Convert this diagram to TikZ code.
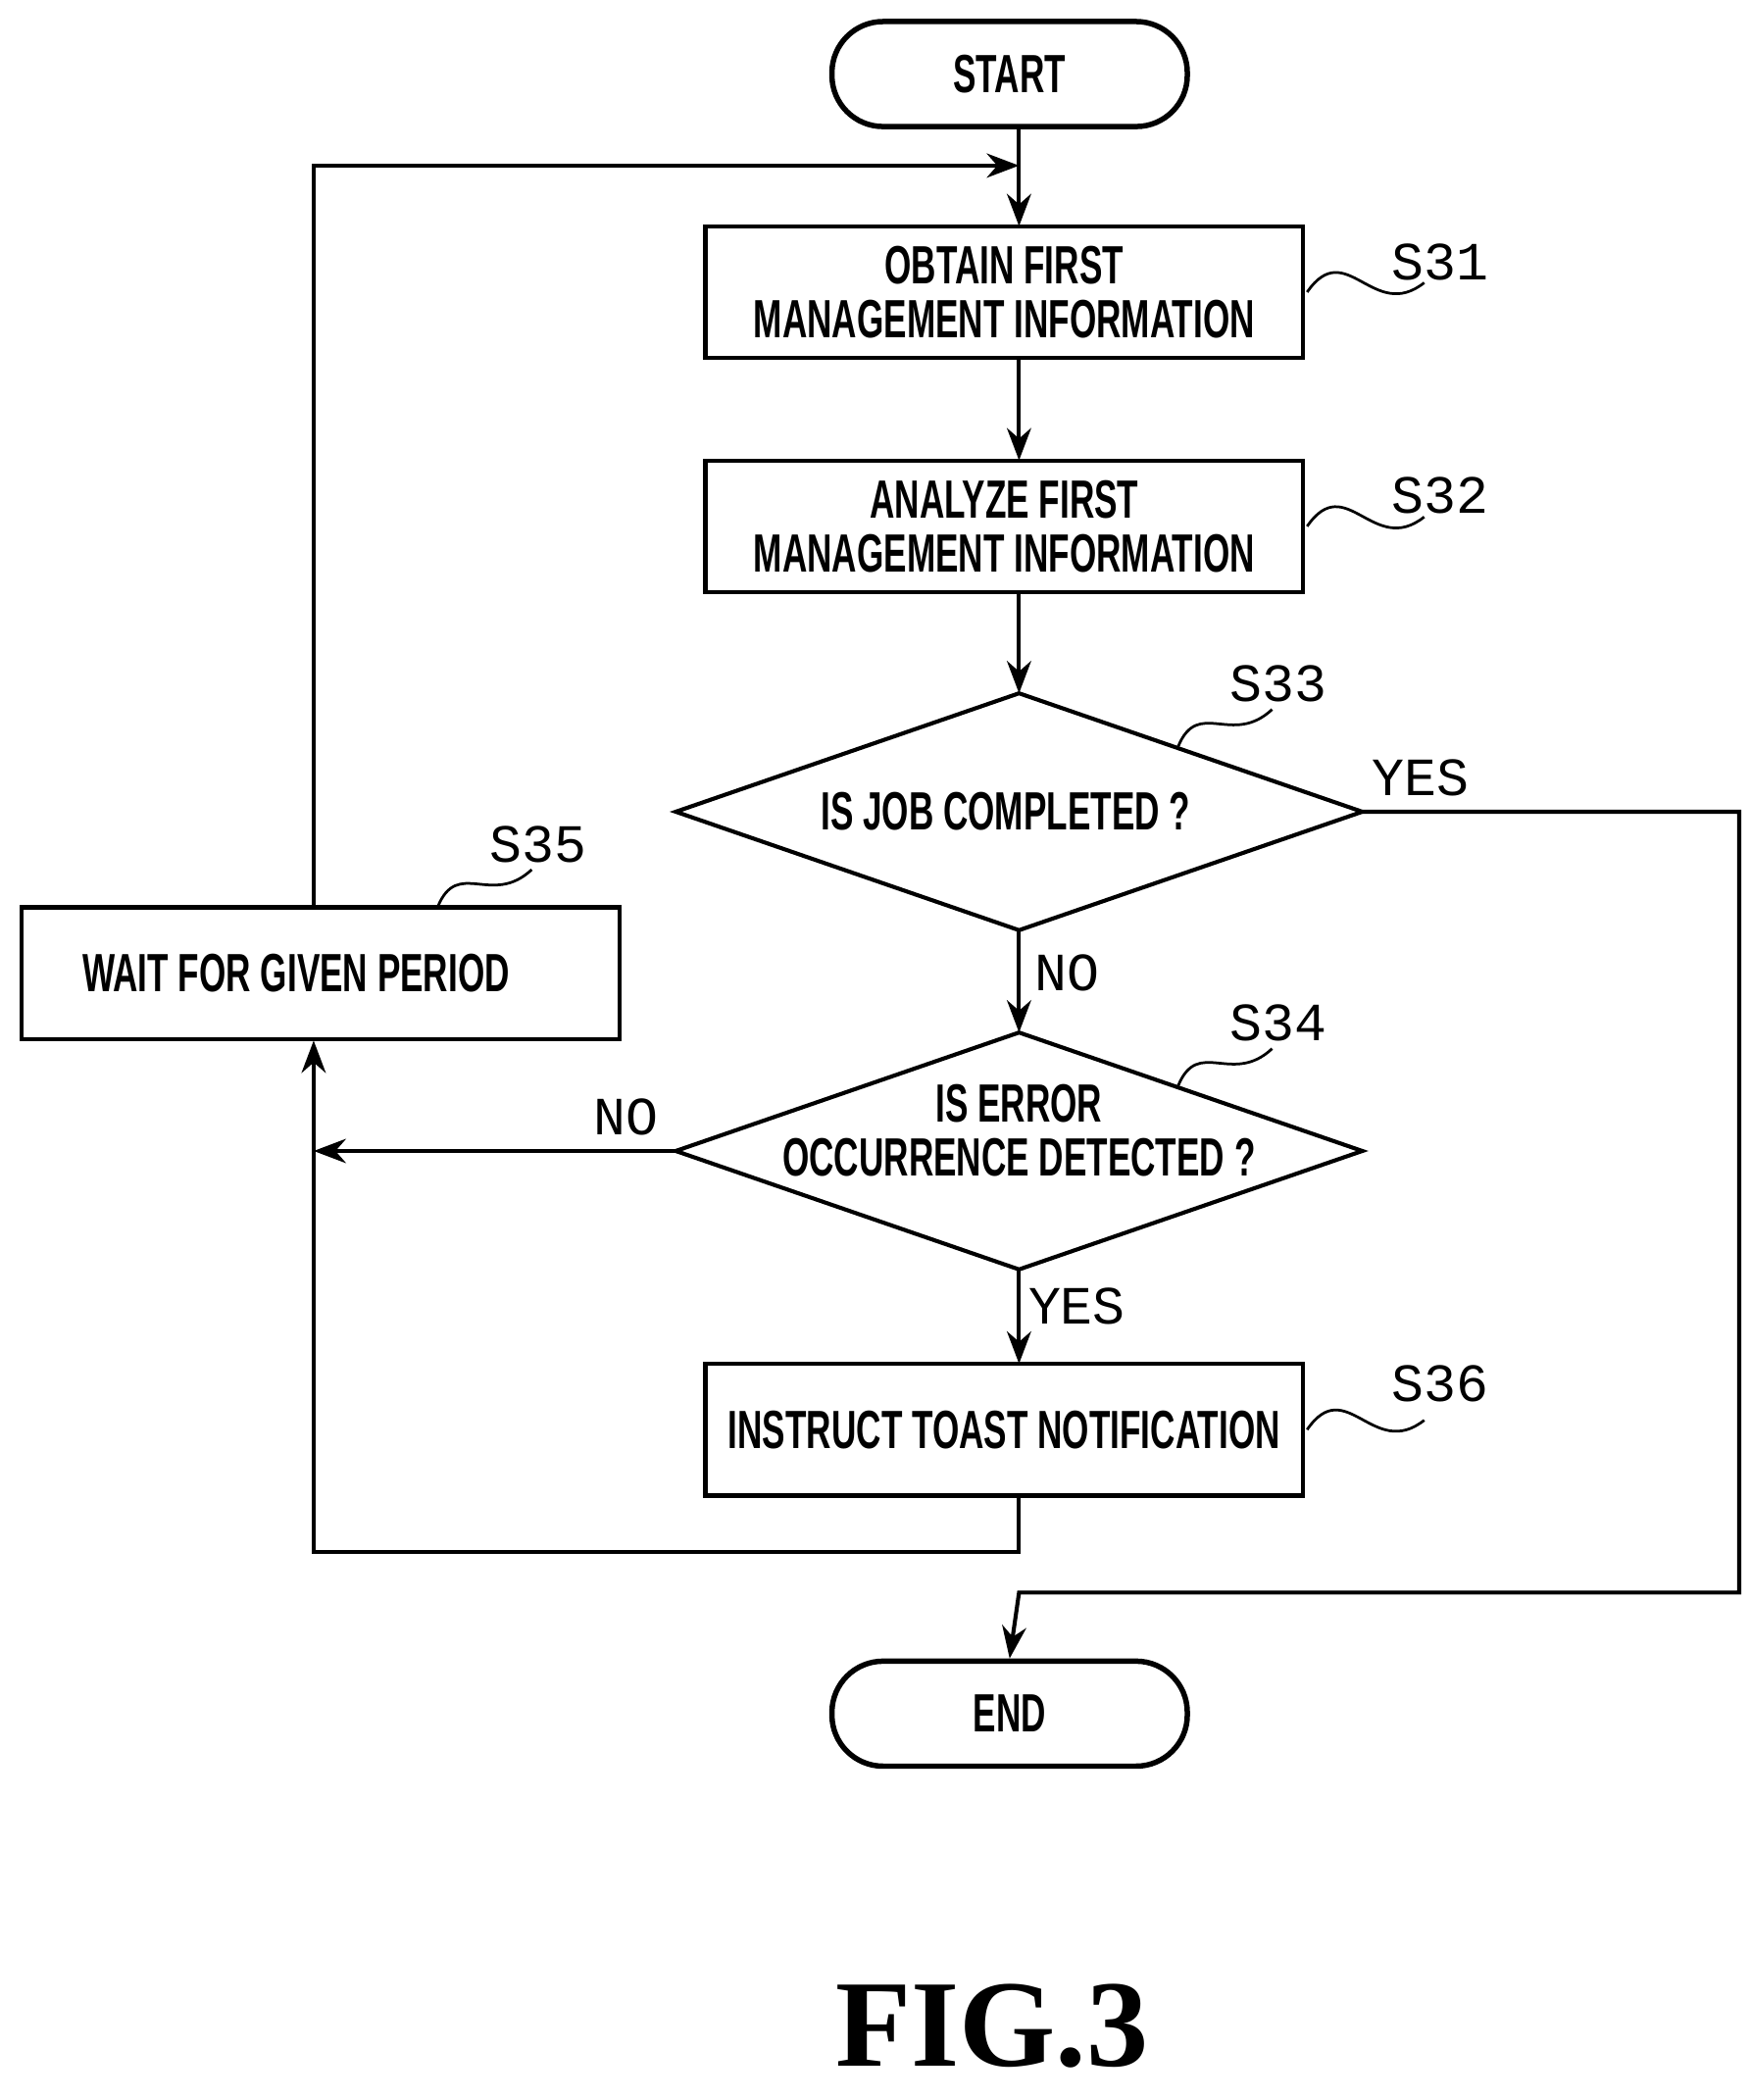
\documentclass[tikz,border=0pt]{standalone}
\usepackage{fontspec}
\setmainfont{Liberation Serif}
\newfontfamily\boxfont[FakeStretch=0.64]{Liberation Sans}
\newfontfamily\lblfont{Liberation Mono}
\usetikzlibrary{shapes.geometric,arrows.meta}
\begin{document}
\begin{tikzpicture}[x=0.5pt,y=-0.5pt,line width=1.5pt,
  txt/.style={align=center,inner sep=0pt,font=\boxfont\bfseries\fontsize{20}{20}\selectfont},
  box/.style={draw,txt,minimum width=222pt,minimum height=49pt},
  term/.style={draw,txt,rounded corners=19pt,line width=2pt,minimum width=132pt,minimum height=39pt},
  lbl/.style={font=\lblfont\fontsize{20}{20}\selectfont},
  arr/.style={-{Stealth[length=12pt,width=9pt]}},
  sq/.style={line width=1pt}]
\useasboundingbox (0,0) rectangle (1300,1560);
\node[term] (start) at (750,55) {START};
\node[box] (s31) at (746,217) {OBTAIN FIRST\\[0pt]MANAGEMENT INFORMATION};
\node[box] (s32) at (746,391) {ANALYZE FIRST\\[0pt]MANAGEMENT INFORMATION};
\coordinate (d3n) at (757,515); \coordinate (d3s) at (757,691);
\coordinate (d3e) at (1012,603); \coordinate (d3w) at (502,603);
\draw (d3n) -- (d3e) -- (d3s) -- (d3w) -- cycle;
\node[txt] (s33) at (747,603) {IS JOB COMPLETED ?};
\coordinate (d4n) at (757,767); \coordinate (d4s) at (757,943);
\coordinate (d4e) at (1012,855); \coordinate (d4w) at (502,855);
\draw (d4n) -- (d4e) -- (d4s) -- (d4w) -- cycle;
\node[txt] (s34) at (757,840) {IS ERROR\\[0pt]OCCURRENCE DETECTED ?};
\node[box] (s36) at (746,1062) {INSTRUCT TOAST NOTIFICATION};
\node[box] (s35) at (238,723) {\hspace*{-18pt}WAIT FOR GIVEN PERIOD};
\node[term] (end) at (750,1273) {END};
\coordinate (top) at (757,123);
\draw (757,95) -- (top);
\draw[arr] (top) -- (757,168);
\draw[arr] (757,267) -- (757,342);
\draw[arr] (757,440) -- (d3n);
\draw[arr] (d3s) -- (d4n);
\draw[arr] (d4s) -- (757,1013);
\draw[arr] (233,674) -- (233,123) -- (top);
\draw[arr] (d3e) -- (1292,603) -- (1292,1183) -- (757,1183) -- (end.north);
\draw[arr] (d4w) -- (233,855);
\draw[arr] (757,1112) -- (757,1153) -- (233,1153) -- (233,773);
\node[lbl] at (1055,578) {YES};
\node[lbl] at (793,723) {NO};
\node[lbl] at (465,830) {NO};
\node[lbl] at (800,970) {YES};
\node[lbl] (l31) at (1070,195) {S31};
\node[lbl] (l32) at (1070,368) {S32};
\node[lbl] (l33) at (950,508) {S33};
\node[lbl] (l34) at (950,760) {S34};
\node[lbl] (l35) at (400,627) {S35};
\node[lbl] (l36) at (1070,1028) {S36};
\draw[sq] (971,217) .. controls (1000,175) and (1020,240) .. (1058,210);
\draw[sq] (971,391) .. controls (1000,349) and (1020,414) .. (1058,384);
\draw[sq] (875,555) .. controls (890,518) and (915,555) .. (945,527);
\draw[sq] (875,807) .. controls (890,770) and (915,807) .. (945,779);
\draw[sq] (325,674) .. controls (340,637) and (365,674) .. (395,646);
\draw[sq] (971,1062) .. controls (1000,1020) and (1020,1085) .. (1058,1055);
\node[font=\bfseries\fontsize{46}{46}\selectfont] at (737,1505) {FIG.3};
\end{tikzpicture}
\end{document}
